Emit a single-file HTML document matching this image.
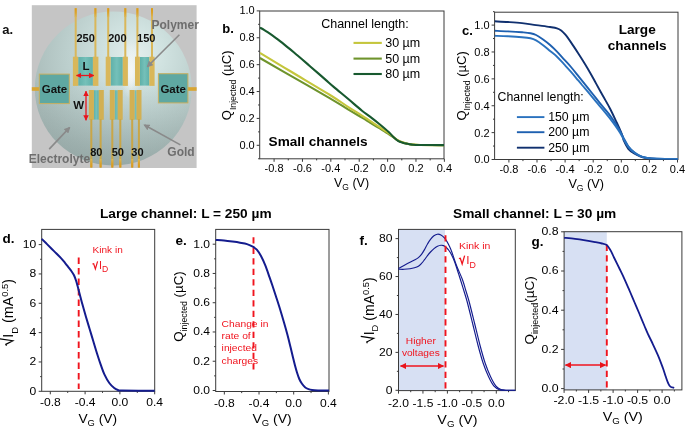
<!DOCTYPE html>
<html><head><meta charset="utf-8"><style>
html,body{margin:0;padding:0;background:#fff;width:685px;height:428px;overflow:hidden}
svg{display:block;will-change:transform;filter:blur(0.3px)}
text{font-family:"Liberation Sans", sans-serif}
</style></head><body>
<svg width="685" height="428" viewBox="0 0 685 428" font-family='"Liberation Sans", sans-serif'>
<rect width="685" height="428" fill="#fff"/>
<defs>
<radialGradient id="circ" cx="0.62" cy="0.30" r="0.85" fx="0.64" fy="0.28">
  <stop offset="0" stop-color="#e3eeed"/>
  <stop offset="0.22" stop-color="#d0e2e0"/>
  <stop offset="0.5" stop-color="#bccfcd"/>
  <stop offset="0.78" stop-color="#aabcba"/>
  <stop offset="1" stop-color="#a0b1af"/>
</radialGradient>
<radialGradient id="glow" cx="0.5" cy="0.5" r="0.5">
  <stop offset="0" stop-color="#f4f6f6" stop-opacity="0.95"/>
  <stop offset="1" stop-color="#f4f6f6" stop-opacity="0"/>
</radialGradient>
<linearGradient id="tipT" x1="0" y1="0" x2="0" y2="1">
  <stop offset="0" stop-color="#db9a18"/>
  <stop offset="0.45" stop-color="#dba12a"/>
  <stop offset="1" stop-color="#d9b75a"/>
</linearGradient>
<linearGradient id="tipB" x1="0" y1="1" x2="0" y2="0">
  <stop offset="0" stop-color="#db9a18"/>
  <stop offset="0.45" stop-color="#dba12a"/>
  <stop offset="1" stop-color="#d9b75a"/>
</linearGradient>
<linearGradient id="shadeB" x1="0" y1="0" x2="0" y2="1">
  <stop offset="0" stop-color="#5a6e6c" stop-opacity="0"/>
  <stop offset="0.45" stop-color="#5a6e6c" stop-opacity="0"/>
  <stop offset="1" stop-color="#5a6e6c" stop-opacity="0.22"/>
</linearGradient>
<linearGradient id="teal" x1="0" y1="0" x2="1" y2="0">
  <stop offset="0" stop-color="#5fb0a9"/>
  <stop offset="0.5" stop-color="#74c0b9"/>
  <stop offset="1" stop-color="#5fb0a9"/>
</linearGradient>
<filter id="blur05" x="-10%" y="-10%" width="120%" height="120%"><feGaussianBlur stdDeviation="0.45"/></filter>
<filter id="blur2" x="-50%" y="-50%" width="200%" height="200%"><feGaussianBlur stdDeviation="4"/></filter>
<marker id="garr" viewBox="0 0 10 10" refX="8" refY="5" markerWidth="4" markerHeight="4" orient="auto-start-reverse"><path d="M0,0 L10,5 L0,10 z" fill="#8a8a8a"/></marker>
<marker id="rarr" viewBox="0 0 10 10" refX="9" refY="5" markerWidth="4.2" markerHeight="4.2" orient="auto-start-reverse"><path d="M0,0 L10,5 L0,10 z" fill="#e8141c"/></marker>
</defs>
<g filter="url(#blur05)">
<rect x="31.8" y="5.2" width="164.8" height="162.8" fill="#c5c5c5"/>
<ellipse cx="113.3" cy="88.6" rx="78.5" ry="77" fill="url(#circ)"/>
<ellipse cx="113.3" cy="88.6" rx="78.5" ry="77" fill="url(#shadeB)"/>
<ellipse cx="131" cy="70" rx="11" ry="30" fill="url(#glow)"/>
<ellipse cx="131" cy="72" rx="5" ry="18" fill="url(#glow)"/>
<rect x="74.7" y="8.2" width="2.0" height="50" fill="#d9b75a"/>
<rect x="74.7" y="8.2" width="2.0" height="9" fill="url(#tipT)"/>
<rect x="94.4" y="8.2" width="2.0" height="50" fill="#d9b75a"/>
<rect x="94.4" y="8.2" width="2.0" height="9" fill="url(#tipT)"/>
<rect x="107.2" y="8.2" width="2.0" height="50" fill="#d9b75a"/>
<rect x="107.2" y="8.2" width="2.0" height="9" fill="url(#tipT)"/>
<rect x="124.3" y="8.2" width="2.0" height="50" fill="#d9b75a"/>
<rect x="124.3" y="8.2" width="2.0" height="9" fill="url(#tipT)"/>
<rect x="136.4" y="8.2" width="2.0" height="50" fill="#d9b75a"/>
<rect x="136.4" y="8.2" width="2.0" height="9" fill="url(#tipT)"/>
<rect x="151.0" y="8.2" width="2.0" height="50" fill="#d9b75a"/>
<rect x="151.0" y="8.2" width="2.0" height="9" fill="url(#tipT)"/>
<rect x="78.2" y="57.0" width="14.7" height="28.6" fill="url(#teal)"/>
<rect x="72.9" y="56.7" width="5.3" height="29.2" fill="#d9b75a"/>
<rect x="92.9" y="56.7" width="5.5" height="29.2" fill="#d9b75a"/>
<rect x="110.6" y="57.0" width="12.2" height="28.6" fill="url(#teal)"/>
<rect x="105.7" y="56.7" width="4.9" height="29.2" fill="#d9b75a"/>
<rect x="122.8" y="56.7" width="5.1" height="29.2" fill="#d9b75a"/>
<rect x="139.9" y="57.0" width="9.5" height="28.6" fill="url(#teal)"/>
<rect x="135.0" y="56.7" width="4.9" height="29.2" fill="#d9b75a"/>
<rect x="149.4" y="56.7" width="5.2" height="29.2" fill="#d9b75a"/>
<rect x="93.9" y="90.2" width="4.9" height="29.4" fill="url(#teal)"/>
<rect x="88.9" y="90.0" width="5.0" height="29.8" fill="#d2b052"/>
<rect x="98.8" y="90.0" width="5.0" height="29.8" fill="#d2b052"/>
<rect x="114.7" y="90.2" width="3.0" height="29.4" fill="url(#teal)"/>
<rect x="109.8" y="90.0" width="4.9" height="29.8" fill="#d2b052"/>
<rect x="117.7" y="90.0" width="5.0" height="29.8" fill="#d2b052"/>
<rect x="134.6" y="90.2" width="1.9" height="29.4" fill="url(#teal)"/>
<rect x="129.6" y="90.0" width="5.0" height="29.8" fill="#d2b052"/>
<rect x="136.5" y="90.0" width="5.0" height="29.8" fill="#d2b052"/>
<rect x="90.3" y="119" width="2.0" height="48.5" fill="#c9a646"/>
<rect x="90.3" y="159" width="2.0" height="8.5" fill="url(#tipB)"/>
<rect x="99.6" y="119" width="2.0" height="48.5" fill="#c9a646"/>
<rect x="99.6" y="159" width="2.0" height="8.5" fill="url(#tipB)"/>
<rect x="111.3" y="119" width="2.0" height="48.5" fill="#c9a646"/>
<rect x="111.3" y="159" width="2.0" height="8.5" fill="url(#tipB)"/>
<rect x="119.3" y="119" width="2.0" height="48.5" fill="#c9a646"/>
<rect x="119.3" y="159" width="2.0" height="8.5" fill="url(#tipB)"/>
<rect x="131.2" y="119" width="2.0" height="48.5" fill="#c9a646"/>
<rect x="131.2" y="159" width="2.0" height="8.5" fill="url(#tipB)"/>
<rect x="137.9" y="119" width="2.0" height="48.5" fill="#c9a646"/>
<rect x="137.9" y="159" width="2.0" height="8.5" fill="url(#tipB)"/>
<rect x="31.8" y="87.2" width="8" height="3.6" fill="#d9a531"/>
<rect x="188" y="87.2" width="8.6" height="3.6" fill="#d9a531"/>
<rect x="39.3" y="74.1" width="30" height="29.5" fill="#5fa8a2" stroke="#c8b060" stroke-width="1"/>
<rect x="158.4" y="73.7" width="29.5" height="29.2" fill="#5fa8a2" stroke="#c8b060" stroke-width="1"/>
</g>
<g font-weight="bold" font-size="11.5" fill="#111">
<text x="54.50" y="93.30" font-size="11.5" text-anchor="middle" font-weight="bold" fill="#111" >Gate</text>
<text x="173.20" y="92.80" font-size="11.5" text-anchor="middle" font-weight="bold" fill="#111" >Gate</text>
<text x="86.00" y="69.50" font-size="11.5" text-anchor="middle" font-weight="bold" fill="#111" >L</text>
<text x="78.80" y="108.80" font-size="11.5" text-anchor="middle" font-weight="bold" fill="#111" >W</text>
<text x="85.60" y="42.40" font-size="11" text-anchor="middle" font-weight="bold" fill="#111" >250</text>
<text x="117.40" y="42.40" font-size="11" text-anchor="middle" font-weight="bold" fill="#111" >200</text>
<text x="146.20" y="42.40" font-size="11" text-anchor="middle" font-weight="bold" fill="#111" >150</text>
<text x="96.30" y="155.60" font-size="11" text-anchor="middle" font-weight="bold" fill="#111" >80</text>
<text x="117.80" y="155.60" font-size="11" text-anchor="middle" font-weight="bold" fill="#111" >50</text>
<text x="137.40" y="155.60" font-size="11" text-anchor="middle" font-weight="bold" fill="#111" >30</text>
</g>
<text x="175.20" y="29.40" font-size="12" text-anchor="middle" font-weight="bold" fill="#6e6e6e" >Polymer</text>
<text x="59.40" y="162.80" font-size="12" text-anchor="middle" font-weight="bold" fill="#6e6e6e" >Electrolyte</text>
<text x="181.00" y="156.00" font-size="12" text-anchor="middle" font-weight="bold" fill="#6e6e6e" >Gold</text>
<path d="M179.4,34.7 L147.5,66.5" stroke="#8a8a8a" stroke-width="1.6" marker-end="url(#garr)"/>
<path d="M49.2,149.1 L69.5,127.6" stroke="#8a8a8a" stroke-width="1.6" marker-end="url(#garr)"/>
<path d="M180.4,144.9 L144.5,125" stroke="#8a8a8a" stroke-width="1.6" marker-end="url(#garr)"/>
<path d="M76.5,75.5 L93.8,75.5" stroke="#e8141c" stroke-width="1.3" marker-start="url(#rarr)" marker-end="url(#rarr)"/>
<path d="M86,91.2 L86,120.2" stroke="#e8141c" stroke-width="1.3" marker-start="url(#rarr)" marker-end="url(#rarr)"/>
<text x="2.30" y="33.80" font-size="13" text-anchor="start" font-weight="bold" fill="#111" >a.</text>
<rect x="259.70" y="11.00" width="184.30" height="147.80" fill="none" stroke="#3a3a3a" stroke-width="1.0"/>
<path d="M274.08,158.80v3.0 M302.46,158.80v3.0 M330.84,158.80v3.0 M359.22,158.80v3.0 M387.60,158.80v3.0 M415.98,158.80v3.0 M444.36,158.80v3.0 M288.27,158.80v1.6 M316.65,158.80v1.6 M345.03,158.80v1.6 M373.41,158.80v1.6 M401.79,158.80v1.6 M430.17,158.80v1.6 M259.70,145.30h-3.0 M259.70,118.42h-3.0 M259.70,91.54h-3.0 M259.70,64.66h-3.0 M259.70,37.78h-3.0 M259.70,10.90h-3.0 M259.70,158.74h-1.6 M259.70,131.86h-1.6 M259.70,104.98h-1.6 M259.70,78.10h-1.6 M259.70,51.22h-1.6 M259.70,24.34h-1.6" stroke="#3a3a3a" stroke-width="1.0" fill="none"/>
<text x="274.08" y="171.80" font-size="11" text-anchor="middle" font-weight="normal" fill="#000" >-0.8</text>
<text x="302.46" y="171.80" font-size="11" text-anchor="middle" font-weight="normal" fill="#000" >-0.6</text>
<text x="330.84" y="171.80" font-size="11" text-anchor="middle" font-weight="normal" fill="#000" >-0.4</text>
<text x="359.22" y="171.80" font-size="11" text-anchor="middle" font-weight="normal" fill="#000" >-0.2</text>
<text x="387.60" y="171.80" font-size="11" text-anchor="middle" font-weight="normal" fill="#000" >0.0</text>
<text x="415.98" y="171.80" font-size="11" text-anchor="middle" font-weight="normal" fill="#000" >0.2</text>
<text x="444.36" y="171.80" font-size="11" text-anchor="middle" font-weight="normal" fill="#000" >0.4</text>
<text x="254.70" y="148.70" font-size="11" text-anchor="end" font-weight="normal" fill="#000" >0.0</text>
<text x="254.70" y="121.82" font-size="11" text-anchor="end" font-weight="normal" fill="#000" >0.2</text>
<text x="254.70" y="94.94" font-size="11" text-anchor="end" font-weight="normal" fill="#000" >0.4</text>
<text x="254.70" y="68.06" font-size="11" text-anchor="end" font-weight="normal" fill="#000" >0.6</text>
<text x="254.70" y="41.18" font-size="11" text-anchor="end" font-weight="normal" fill="#000" >0.8</text>
<text x="254.70" y="14.30" font-size="11" text-anchor="end" font-weight="normal" fill="#000" >1.0</text>
<clipPath id="cb"><rect x="259.7" y="11.0" width="184.3" height="147.8"/></clipPath>
<g clip-path="url(#cb)" fill="none" stroke-width="2.1" stroke-linejoin="round">
<path d="M259.90,58.00 C264.92,60.90 278.32,68.68 290.00,75.40 C301.68,82.12 320.33,92.63 330.00,98.30 C339.67,103.97 342.67,106.18 348.00,109.40 C353.33,112.62 358.33,115.42 362.00,117.60 C365.67,119.78 367.12,120.73 370.00,122.50 C372.88,124.27 376.18,126.28 379.30,128.20 C382.42,130.12 386.20,132.37 388.70,134.00 C391.20,135.63 392.75,136.92 394.30,138.00 C395.85,139.08 396.60,139.77 398.00,140.50 C399.40,141.23 401.13,141.87 402.70,142.40 C404.27,142.93 405.85,143.35 407.40,143.70 C408.95,144.05 409.90,144.28 412.00,144.50 C414.10,144.72 414.67,144.90 420.00,145.00 C425.33,145.10 440.00,145.08 444.00,145.10" stroke="#6f942c"/>
<path d="M259.90,52.80 C264.92,55.83 278.32,63.97 290.00,71.00 C301.68,78.03 320.33,89.03 330.00,95.00 C339.67,100.97 342.67,103.37 348.00,106.80 C353.33,110.23 358.33,113.25 362.00,115.60 C365.67,117.95 367.12,119.03 370.00,120.90 C372.88,122.77 376.18,124.75 379.30,126.80 C382.42,128.85 386.20,131.38 388.70,133.20 C391.20,135.02 392.75,136.52 394.30,137.70 C395.85,138.88 396.60,139.53 398.00,140.30 C399.40,141.07 401.13,141.73 402.70,142.30 C404.27,142.87 405.85,143.33 407.40,143.70 C408.95,144.07 409.90,144.28 412.00,144.50 C414.10,144.72 414.67,144.90 420.00,145.00 C425.33,145.10 440.00,145.08 444.00,145.10" stroke="#c5c63c"/>
<path d="M259.90,27.65 C260.58,28.02 262.65,29.10 264.00,29.89 C265.35,30.68 266.67,31.51 268.00,32.38 C269.33,33.25 270.67,34.18 272.00,35.12 C273.33,36.06 274.67,37.04 276.00,38.04 C277.33,39.04 278.50,39.93 280.00,41.10 C281.50,42.27 283.33,43.73 285.00,45.08 C286.67,46.42 288.17,47.65 290.00,49.17 C291.83,50.69 294.00,52.51 296.00,54.20 C298.00,55.89 299.67,57.31 302.00,59.31 C304.33,61.31 307.33,63.89 310.00,66.20 C312.67,68.51 315.33,70.83 318.00,73.16 C320.67,75.48 323.33,77.82 326.00,80.15 C328.67,82.48 330.33,84.05 334.00,87.16 C337.67,90.27 343.33,94.88 348.00,98.80 C352.67,102.72 358.33,107.73 362.00,110.70 C365.67,113.67 367.12,114.38 370.00,116.60 C372.88,118.82 376.18,121.43 379.30,124.00 C382.42,126.57 386.35,129.83 388.70,132.00 C391.05,134.17 391.85,135.53 393.40,137.00 C394.95,138.47 396.45,139.85 398.00,140.80 C399.55,141.75 401.13,142.20 402.70,142.70 C404.27,143.20 405.85,143.48 407.40,143.80 C408.95,144.12 409.90,144.40 412.00,144.60 C414.10,144.80 414.67,144.92 420.00,145.00 C425.33,145.08 440.00,145.08 444.00,145.10" stroke="#18592f"/>
</g>
<text x="321.20" y="27.50" font-size="12.5" text-anchor="start" font-weight="normal" fill="#000" >Channel length:</text>
<path d="M353.5,42.9 H381.8" stroke="#c5c63c" stroke-width="2.1"/>
<text x="385.20" y="47.30" font-size="12.5" text-anchor="start" font-weight="normal" fill="#000" >30 µm</text>
<path d="M353.5,58.6 H381.8" stroke="#6f942c" stroke-width="2.1"/>
<text x="385.20" y="63.00" font-size="12.5" text-anchor="start" font-weight="normal" fill="#000" >50 µm</text>
<path d="M353.5,74.0 H381.8" stroke="#18592f" stroke-width="2.1"/>
<text x="385.20" y="78.40" font-size="12.5" text-anchor="start" font-weight="normal" fill="#000" >80 µm</text>
<text x="268.60" y="145.70" font-size="13.6" text-anchor="start" font-weight="bold" fill="#000" >Small channels</text>
<text x="334.00" y="187.40" font-size="12.5" text-anchor="start" font-weight="normal" fill="#000" >V<tspan font-size="8.5" dy="3">G</tspan><tspan dy="-3"> (V)</tspan></text>
<text transform="translate(231.3,120.2) rotate(-90)" font-size="13">Q<tspan font-size="8.7" dy="5">Injected</tspan><tspan dy="-5"> (µC)</tspan></text>
<text x="222.20" y="32.70" font-size="13" text-anchor="start" font-weight="bold" fill="#000" >b.</text>
<rect x="494.60" y="12.20" width="183.40" height="147.30" fill="none" stroke="#3a3a3a" stroke-width="1.0"/>
<path d="M508.90,159.50v3.0 M537.00,159.50v3.0 M565.10,159.50v3.0 M593.20,159.50v3.0 M621.30,159.50v3.0 M649.40,159.50v3.0 M677.50,159.50v3.0 M522.95,159.50v1.6 M551.05,159.50v1.6 M579.15,159.50v1.6 M607.25,159.50v1.6 M635.35,159.50v1.6 M663.45,159.50v1.6 M494.60,159.50h-3.0 M494.60,132.62h-3.0 M494.60,105.74h-3.0 M494.60,78.86h-3.0 M494.60,51.98h-3.0 M494.60,25.10h-3.0 M494.60,146.06h-1.6 M494.60,119.18h-1.6 M494.60,92.30h-1.6 M494.60,65.42h-1.6 M494.60,38.54h-1.6 M494.60,11.66h-1.6" stroke="#3a3a3a" stroke-width="1.0" fill="none"/>
<text x="508.90" y="172.60" font-size="11" text-anchor="middle" font-weight="normal" fill="#000" >-0.8</text>
<text x="537.00" y="172.60" font-size="11" text-anchor="middle" font-weight="normal" fill="#000" >-0.6</text>
<text x="565.10" y="172.60" font-size="11" text-anchor="middle" font-weight="normal" fill="#000" >-0.4</text>
<text x="593.20" y="172.60" font-size="11" text-anchor="middle" font-weight="normal" fill="#000" >-0.2</text>
<text x="621.30" y="172.60" font-size="11" text-anchor="middle" font-weight="normal" fill="#000" >0.0</text>
<text x="649.40" y="172.60" font-size="11" text-anchor="middle" font-weight="normal" fill="#000" >0.2</text>
<text x="677.50" y="172.60" font-size="11" text-anchor="middle" font-weight="normal" fill="#000" >0.4</text>
<text x="489.60" y="163.40" font-size="11" text-anchor="end" font-weight="normal" fill="#000" >0.0</text>
<text x="489.60" y="136.52" font-size="11" text-anchor="end" font-weight="normal" fill="#000" >0.2</text>
<text x="489.60" y="109.64" font-size="11" text-anchor="end" font-weight="normal" fill="#000" >0.4</text>
<text x="489.60" y="82.76" font-size="11" text-anchor="end" font-weight="normal" fill="#000" >0.6</text>
<text x="489.60" y="55.88" font-size="11" text-anchor="end" font-weight="normal" fill="#000" >0.8</text>
<text x="489.60" y="29.00" font-size="11" text-anchor="end" font-weight="normal" fill="#000" >1.0</text>
<clipPath id="cc"><rect x="494.6" y="12.2" width="183.39999999999998" height="147.3"/></clipPath>
<g clip-path="url(#cc)" fill="none" stroke-width="1.9" stroke-linejoin="round">
<path d="M494.60,21.30 C496.83,21.42 503.43,21.70 508.00,22.00 C512.57,22.30 517.32,22.58 522.00,23.10 C526.68,23.62 531.43,24.45 536.10,25.10 C540.77,25.75 546.52,26.47 550.00,27.00 C553.48,27.53 555.13,27.72 557.00,28.30 C558.87,28.88 559.80,29.43 561.20,30.50 C562.60,31.57 563.77,32.72 565.40,34.70 C567.03,36.68 568.90,39.35 571.00,42.40 C573.10,45.45 575.65,49.37 578.00,53.00 C580.35,56.63 583.03,60.83 585.10,64.20 C587.17,67.57 588.58,70.00 590.40,73.20 C592.22,76.40 593.90,79.60 596.00,83.40 C598.10,87.20 600.65,91.78 603.00,96.00 C605.35,100.22 607.82,104.28 610.10,108.70 C612.38,113.12 615.02,118.92 616.70,122.50 C618.38,126.08 619.23,127.95 620.20,130.20 C621.17,132.45 621.87,134.20 622.50,136.00 C623.13,137.80 623.03,138.85 624.00,141.00 C624.97,143.15 626.60,146.82 628.30,148.90 C630.00,150.98 632.25,152.25 634.20,153.50 C636.15,154.75 638.05,155.65 640.00,156.40 C641.95,157.15 643.95,157.63 645.90,158.00 C647.85,158.37 648.52,158.45 651.70,158.60 C654.88,158.75 660.62,158.83 665.00,158.90 C669.38,158.97 675.83,158.98 678.00,159.00" stroke="#10306f"/>
<path d="M494.60,30.80 C496.83,30.90 503.43,31.15 508.00,31.40 C512.57,31.65 518.25,32.00 522.00,32.30 C525.75,32.60 528.15,32.75 530.50,33.20 C532.85,33.65 534.00,33.95 536.10,35.00 C538.20,36.05 540.77,37.83 543.10,39.50 C545.43,41.17 547.78,42.98 550.10,45.00 C552.42,47.02 554.68,49.22 557.00,51.60 C559.32,53.98 561.67,56.73 564.00,59.30 C566.33,61.87 568.67,64.28 571.00,67.00 C573.33,69.72 576.17,73.33 578.00,75.60 C579.83,77.87 580.17,78.32 582.00,80.60 C583.83,82.88 586.67,86.37 589.00,89.30 C591.33,92.23 593.67,95.27 596.00,98.20 C598.33,101.13 600.65,104.00 603.00,106.90 C605.35,109.80 607.82,112.55 610.10,115.60 C612.38,118.65 615.02,122.58 616.70,125.20 C618.38,127.82 619.03,129.13 620.20,131.30 C621.37,133.47 622.35,135.72 623.70,138.20 C625.05,140.68 626.55,143.85 628.30,146.20 C630.05,148.55 632.25,150.70 634.20,152.30 C636.15,153.90 638.05,154.90 640.00,155.80 C641.95,156.70 643.95,157.25 645.90,157.70 C647.85,158.15 648.52,158.30 651.70,158.50 C654.88,158.70 660.62,158.82 665.00,158.90 C669.38,158.98 675.83,158.98 678.00,159.00" stroke="#1e60b0"/>
<path d="M494.60,35.80 C496.83,35.88 503.43,36.07 508.00,36.30 C512.57,36.53 518.25,36.87 522.00,37.20 C525.75,37.53 528.15,37.77 530.50,38.30 C532.85,38.83 534.00,39.25 536.10,40.40 C538.20,41.55 540.77,43.43 543.10,45.20 C545.43,46.97 547.78,49.08 550.10,51.00 C552.42,52.92 554.68,54.50 557.00,56.70 C559.32,58.90 561.67,61.67 564.00,64.20 C566.33,66.73 568.67,69.23 571.00,71.90 C573.33,74.57 576.17,78.02 578.00,80.20 C579.83,82.38 580.17,82.83 582.00,85.00 C583.83,87.17 586.67,90.43 589.00,93.20 C591.33,95.97 593.67,98.83 596.00,101.60 C598.33,104.37 600.65,106.97 603.00,109.80 C605.35,112.63 607.82,115.63 610.10,118.60 C612.38,121.57 615.02,125.20 616.70,127.60 C618.38,130.00 619.03,131.05 620.20,133.00 C621.37,134.95 622.35,137.00 623.70,139.30 C625.05,141.60 626.55,144.58 628.30,146.80 C630.05,149.02 632.25,151.07 634.20,152.60 C636.15,154.13 638.05,155.13 640.00,156.00 C641.95,156.87 643.95,157.38 645.90,157.80 C647.85,158.22 648.52,158.32 651.70,158.50 C654.88,158.68 660.62,158.82 665.00,158.90 C669.38,158.98 675.83,158.98 678.00,159.00" stroke="#2a72be"/>
</g>
<text x="497.60" y="101.40" font-size="12.3" text-anchor="start" font-weight="normal" fill="#000" >Channel length:</text>
<path d="M516.9,117.1 H544.4" stroke="#2a72be" stroke-width="1.9"/>
<text x="548.20" y="121.00" font-size="12.3" text-anchor="start" font-weight="normal" fill="#000" >150 µm</text>
<path d="M516.9,132.2 H544.4" stroke="#1e60b0" stroke-width="1.9"/>
<text x="548.20" y="136.10" font-size="12.3" text-anchor="start" font-weight="normal" fill="#000" >200 µm</text>
<path d="M516.9,147.7 H544.4" stroke="#10306f" stroke-width="1.9"/>
<text x="548.20" y="151.60" font-size="12.3" text-anchor="start" font-weight="normal" fill="#000" >250 µm</text>
<text x="637.20" y="33.90" font-size="13.6" text-anchor="middle" font-weight="bold" fill="#000" >Large</text>
<text x="637.20" y="50.20" font-size="13.6" text-anchor="middle" font-weight="bold" fill="#000" >channels</text>
<text x="568.40" y="188.30" font-size="12.7" text-anchor="start" font-weight="normal" fill="#000" >V<tspan font-size="8.6" dy="3">G</tspan><tspan dy="-3"> (V)</tspan></text>
<text transform="translate(465.9,120.6) rotate(-90)" font-size="13">Q<tspan font-size="8.6" dy="4.5">Injected</tspan><tspan dy="-4.5"> (µC)</tspan></text>
<text x="462.00" y="34.60" font-size="13" text-anchor="start" font-weight="bold" fill="#000" >c.</text>
<text x="100.00" y="218.00" font-size="13.7" text-anchor="start" font-weight="bold" fill="#000" >Large channel: L = 250 µm</text>
<text x="453.00" y="217.90" font-size="13.7" text-anchor="start" font-weight="bold" fill="#000" >Small channel: L = 30 µm</text>
<rect x="41.70" y="229.40" width="113.00" height="161.90" fill="none" stroke="#3a3a3a" stroke-width="1.0"/>
<path d="M50.30,391.30v3.0 M85.10,391.30v3.0 M119.90,391.30v3.0 M154.70,391.30v3.0 M67.70,391.30v1.6 M102.50,391.30v1.6 M137.30,391.30v1.6 M41.70,391.30h-3.0 M41.70,361.96h-3.0 M41.70,332.62h-3.0 M41.70,303.28h-3.0 M41.70,273.94h-3.0 M41.70,244.60h-3.0 M41.70,376.63h-1.6 M41.70,347.29h-1.6 M41.70,317.95h-1.6 M41.70,288.61h-1.6 M41.70,259.27h-1.6" stroke="#3a3a3a" stroke-width="1.0" fill="none"/>
<text transform="translate(50.30,406.30) scale(1.1,1)" font-size="11" text-anchor="middle" font-weight="normal" fill="#000" >-0.8</text>
<text transform="translate(85.10,406.30) scale(1.1,1)" font-size="11" text-anchor="middle" font-weight="normal" fill="#000" >-0.4</text>
<text transform="translate(119.90,406.30) scale(1.1,1)" font-size="11" text-anchor="middle" font-weight="normal" fill="#000" >0.0</text>
<text transform="translate(154.70,406.30) scale(1.1,1)" font-size="11" text-anchor="middle" font-weight="normal" fill="#000" >0.4</text>
<text transform="translate(36.10,394.60) scale(1.1,1)" font-size="11" text-anchor="end" font-weight="normal" fill="#000" >0</text>
<text transform="translate(36.10,365.26) scale(1.1,1)" font-size="11" text-anchor="end" font-weight="normal" fill="#000" >2</text>
<text transform="translate(36.10,335.92) scale(1.1,1)" font-size="11" text-anchor="end" font-weight="normal" fill="#000" >4</text>
<text transform="translate(36.10,306.58) scale(1.1,1)" font-size="11" text-anchor="end" font-weight="normal" fill="#000" >6</text>
<text transform="translate(36.10,277.24) scale(1.1,1)" font-size="11" text-anchor="end" font-weight="normal" fill="#000" >8</text>
<text transform="translate(36.10,247.90) scale(1.1,1)" font-size="11" text-anchor="end" font-weight="normal" fill="#000" >10</text>
<path d="M78.70,257.60 V389.00" stroke="#f0141e" stroke-width="1.9" stroke-dasharray="6.3 4.2"/>
<path d="M41.70,238.90 C42.58,239.77 44.95,242.07 47.00,244.10 C49.05,246.13 51.67,248.77 54.00,251.10 C56.33,253.43 59.17,256.15 61.00,258.10 C62.83,260.05 63.75,261.27 65.00,262.80 C66.25,264.33 67.42,265.90 68.50,267.30 C69.58,268.70 70.58,269.87 71.50,271.20 C72.42,272.53 73.25,273.75 74.00,275.30 C74.75,276.85 75.40,278.72 76.00,280.50 C76.60,282.28 77.10,284.17 77.60,286.00 C78.10,287.83 78.52,289.63 79.00,291.50 C79.48,293.37 79.93,295.07 80.50,297.20 C81.07,299.33 81.48,301.00 82.40,304.30 C83.32,307.60 84.78,312.85 86.00,317.00 C87.22,321.15 88.47,325.12 89.70,329.20 C90.93,333.28 92.17,337.42 93.40,341.50 C94.63,345.58 95.88,349.85 97.10,353.70 C98.32,357.55 99.48,361.15 100.70,364.60 C101.92,368.05 102.97,371.33 104.40,374.40 C105.83,377.47 107.67,380.73 109.30,383.00 C110.93,385.27 112.77,386.83 114.20,388.00 C115.63,389.17 116.60,389.57 117.90,390.00 C119.20,390.43 115.87,390.48 122.00,390.60 C128.13,390.72 149.25,390.68 154.70,390.70" fill="none" stroke="#141c8e" stroke-width="2.0" stroke-linejoin="round"/>
<text transform="translate(92.60,253.10) scale(1.06,1)" font-size="9.5" text-anchor="start" font-weight="normal" fill="#f0141e" >Kink in</text>
<path d="M92.40,264.05 L93.67,263.73 L95.37,269.00 L97.59,261.37" fill="none" stroke="#f0141e" stroke-width="1.17" stroke-linejoin="miter" stroke-linecap="butt"/>
<text x="98.97" y="269.00" font-size="10.6" fill="#f0141e">I<tspan font-size="8.6" dy="2.8">D</tspan></text>
<text transform="translate(97.70,422.80) scale(1.1,1)" font-size="12.5" text-anchor="middle" font-weight="normal" fill="#000" >V<tspan font-size="8.5" dy="3.0">G</tspan><tspan dy="-3.0"> (V)</tspan></text>
<g transform="translate(13.20,312.30) rotate(-90)">
<path d="M-33.50,-6.72 L-32.07,-7.44 L-28.50,-0.29 L-26.50,-13.44" fill="none" stroke="#000" stroke-width="1.14" stroke-linejoin="miter"/>
<text x="-25.35" y="0" font-size="14.3" fill="#000">I<tspan font-size="9.4" dy="4.3">D</tspan><tspan dy="-4.3"> (mA</tspan><tspan font-size="9.4" dy="-5.4">0.5</tspan><tspan dy="5.4">)</tspan></text>
</g>
<text x="2.60" y="242.90" font-size="13.5" text-anchor="start" font-weight="bold" fill="#000" >d.</text>
<rect x="215.70" y="229.40" width="113.30" height="162.10" fill="none" stroke="#3a3a3a" stroke-width="1.0"/>
<path d="M224.34,391.50v3.0 M259.02,391.50v3.0 M293.70,391.50v3.0 M328.38,391.50v3.0 M241.68,391.50v1.6 M276.36,391.50v1.6 M311.04,391.50v1.6 M215.70,390.50h-3.0 M215.70,361.24h-3.0 M215.70,331.98h-3.0 M215.70,302.72h-3.0 M215.70,273.46h-3.0 M215.70,244.20h-3.0 M215.70,375.87h-1.6 M215.70,346.61h-1.6 M215.70,317.35h-1.6 M215.70,288.09h-1.6 M215.70,258.83h-1.6" stroke="#3a3a3a" stroke-width="1.0" fill="none"/>
<text transform="translate(224.34,406.50) scale(1.1,1)" font-size="11" text-anchor="middle" font-weight="normal" fill="#000" >-0.8</text>
<text transform="translate(259.02,406.50) scale(1.1,1)" font-size="11" text-anchor="middle" font-weight="normal" fill="#000" >-0.4</text>
<text transform="translate(293.70,406.50) scale(1.1,1)" font-size="11" text-anchor="middle" font-weight="normal" fill="#000" >0.0</text>
<text transform="translate(328.38,406.50) scale(1.1,1)" font-size="11" text-anchor="middle" font-weight="normal" fill="#000" >0.4</text>
<text transform="translate(210.10,393.80) scale(1.1,1)" font-size="11" text-anchor="end" font-weight="normal" fill="#000" >0.0</text>
<text transform="translate(210.10,364.54) scale(1.1,1)" font-size="11" text-anchor="end" font-weight="normal" fill="#000" >0.2</text>
<text transform="translate(210.10,335.28) scale(1.1,1)" font-size="11" text-anchor="end" font-weight="normal" fill="#000" >0.4</text>
<text transform="translate(210.10,306.02) scale(1.1,1)" font-size="11" text-anchor="end" font-weight="normal" fill="#000" >0.6</text>
<text transform="translate(210.10,276.76) scale(1.1,1)" font-size="11" text-anchor="end" font-weight="normal" fill="#000" >0.8</text>
<text transform="translate(210.10,247.50) scale(1.1,1)" font-size="11" text-anchor="end" font-weight="normal" fill="#000" >1.0</text>
<path d="M253.50,237.30 V372.00" stroke="#f0141e" stroke-width="1.9" stroke-dasharray="6.3 4.2"/>
<path d="M215.70,240.00 C217.08,240.10 221.22,240.33 224.00,240.60 C226.78,240.87 229.73,241.25 232.40,241.60 C235.07,241.95 237.57,242.28 240.00,242.70 C242.43,243.12 244.78,243.40 247.00,244.10 C249.22,244.80 251.67,245.97 253.30,246.90 C254.93,247.83 255.52,248.18 256.80,249.70 C258.08,251.22 259.60,253.42 261.00,256.00 C262.40,258.58 263.78,261.68 265.20,265.20 C266.62,268.72 268.30,273.72 269.50,277.10 C270.70,280.48 271.32,282.27 272.40,285.50 C273.48,288.73 274.73,292.58 276.00,296.50 C277.27,300.42 278.67,304.67 280.00,309.00 C281.33,313.33 282.75,318.17 284.00,322.50 C285.25,326.83 286.42,330.92 287.50,335.00 C288.58,339.08 289.58,343.25 290.50,347.00 C291.42,350.75 292.25,354.42 293.00,357.50 C293.75,360.58 294.33,363.00 295.00,365.50 C295.67,368.00 296.28,370.25 297.00,372.50 C297.72,374.75 298.47,377.12 299.30,379.00 C300.13,380.88 301.05,382.43 302.00,383.80 C302.95,385.17 303.92,386.32 305.00,387.20 C306.08,388.08 307.33,388.63 308.50,389.10 C309.67,389.57 310.42,389.78 312.00,390.00 C313.58,390.22 315.17,390.32 318.00,390.40 C320.83,390.48 327.17,390.48 329.00,390.50" fill="none" stroke="#141c8e" stroke-width="2.0" stroke-linejoin="round"/>
<text transform="translate(221.60,326.70) scale(1.07,1)" font-size="9.6" text-anchor="start" font-weight="normal" fill="#f0141e" >Change in</text>
<text transform="translate(221.60,339.00) scale(1.07,1)" font-size="9.6" text-anchor="start" font-weight="normal" fill="#f0141e" >rate of</text>
<text transform="translate(221.60,351.30) scale(1.07,1)" font-size="9.6" text-anchor="start" font-weight="normal" fill="#f0141e" >injected</text>
<text transform="translate(221.60,363.60) scale(1.07,1)" font-size="9.6" text-anchor="start" font-weight="normal" fill="#f0141e" >charges</text>
<text transform="translate(272.10,423.00) scale(1.1,1)" font-size="12.7" text-anchor="middle" font-weight="normal" fill="#000" >V<tspan font-size="8.6" dy="3.0">G</tspan><tspan dy="-3.0"> (V)</tspan></text>
<text transform="translate(183.30,306.50) rotate(-90)" font-size="13.3" text-anchor="middle">Q<tspan font-size="8.8" dy="4.0">injected</tspan><tspan dy="-4.0"> (µC)</tspan></text>
<text x="175.60" y="245.20" font-size="13.5" text-anchor="start" font-weight="bold" fill="#000" >e.</text>
<rect x="398.5" y="229.4" width="46.50" height="161.20" fill="#d7e0f3"/>
<rect x="398.50" y="229.40" width="116.80" height="161.20" fill="none" stroke="#3a3a3a" stroke-width="1.0"/>
<path d="M398.50,390.60v3.0 M422.95,390.60v3.0 M447.40,390.60v3.0 M471.85,390.60v3.0 M496.30,390.60v3.0 M410.73,390.60v1.6 M435.18,390.60v1.6 M459.62,390.60v1.6 M484.07,390.60v1.6 M508.53,390.60v1.6 M398.50,390.30h-3.0 M398.50,352.38h-3.0 M398.50,314.46h-3.0 M398.50,276.54h-3.0 M398.50,238.62h-3.0 M398.50,371.34h-1.6 M398.50,333.42h-1.6 M398.50,295.50h-1.6 M398.50,257.58h-1.6" stroke="#3a3a3a" stroke-width="1.0" fill="none"/>
<text transform="translate(398.50,406.50) scale(1.1,1)" font-size="11" text-anchor="middle" font-weight="normal" fill="#000" >-2.0</text>
<text transform="translate(422.95,406.50) scale(1.1,1)" font-size="11" text-anchor="middle" font-weight="normal" fill="#000" >-1.5</text>
<text transform="translate(447.40,406.50) scale(1.1,1)" font-size="11" text-anchor="middle" font-weight="normal" fill="#000" >-1.0</text>
<text transform="translate(471.85,406.50) scale(1.1,1)" font-size="11" text-anchor="middle" font-weight="normal" fill="#000" >-0.5</text>
<text transform="translate(496.30,406.50) scale(1.1,1)" font-size="11" text-anchor="middle" font-weight="normal" fill="#000" >0.0</text>
<text transform="translate(392.50,393.60) scale(1.1,1)" font-size="11" text-anchor="end" font-weight="normal" fill="#000" >0</text>
<text transform="translate(392.50,355.68) scale(1.1,1)" font-size="11" text-anchor="end" font-weight="normal" fill="#000" >20</text>
<text transform="translate(392.50,317.76) scale(1.1,1)" font-size="11" text-anchor="end" font-weight="normal" fill="#000" >40</text>
<text transform="translate(392.50,279.84) scale(1.1,1)" font-size="11" text-anchor="end" font-weight="normal" fill="#000" >60</text>
<text transform="translate(392.50,241.92) scale(1.1,1)" font-size="11" text-anchor="end" font-weight="normal" fill="#000" >80</text>
<path d="M398.50,268.50 C399.42,267.98 402.08,266.45 404.00,265.40 C405.92,264.35 408.17,263.13 410.00,262.20 C411.83,261.27 413.60,260.57 415.00,259.80 C416.40,259.03 417.32,258.52 418.40,257.60 C419.48,256.68 420.48,255.63 421.50,254.30 C422.52,252.97 423.50,251.32 424.50,249.60 C425.50,247.88 426.50,245.72 427.50,244.00 C428.50,242.28 429.43,240.67 430.50,239.30 C431.57,237.93 432.75,236.65 433.90,235.80 C435.05,234.95 436.23,234.33 437.40,234.20 C438.57,234.07 439.73,234.38 440.90,235.00 C442.07,235.62 443.38,236.80 444.40,237.90 C445.42,239.00 446.18,240.25 447.00,241.60 C447.82,242.95 448.47,244.18 449.30,246.00 C450.13,247.82 450.80,249.25 452.00,252.50 C453.20,255.75 454.77,261.00 456.50,265.50 C458.23,270.00 460.85,275.33 462.40,279.50 C463.95,283.67 464.68,286.83 465.80,290.50 C466.92,294.17 467.65,296.08 469.10,301.50 C470.55,306.92 472.72,315.83 474.50,323.00 C476.28,330.17 478.02,337.78 479.80,344.50 C481.58,351.22 483.40,357.92 485.20,363.30 C487.00,368.68 488.80,372.98 490.60,376.80 C492.40,380.62 494.27,384.07 496.00,386.20 C497.73,388.33 499.33,388.93 501.00,389.60 C502.67,390.27 503.62,390.08 506.00,390.20 C508.38,390.32 513.75,390.28 515.30,390.30" fill="none" stroke="#141c8e" stroke-width="1.15"/>
<path d="M398.50,269.20 C399.42,269.22 402.08,269.37 404.00,269.30 C405.92,269.23 408.25,269.05 410.00,268.80 C411.75,268.55 413.10,268.23 414.50,267.80 C415.90,267.37 417.23,266.93 418.40,266.20 C419.57,265.47 420.48,264.48 421.50,263.40 C422.52,262.32 423.50,261.00 424.50,259.70 C425.50,258.40 426.50,256.88 427.50,255.60 C428.50,254.32 429.42,253.17 430.50,252.00 C431.58,250.83 432.83,249.55 434.00,248.60 C435.17,247.65 436.35,246.85 437.50,246.30 C438.65,245.75 439.90,245.42 440.90,245.30 C441.90,245.18 442.65,245.28 443.50,245.60 C444.35,245.92 445.17,246.48 446.00,247.20 C446.83,247.92 447.67,248.82 448.50,249.90 C449.33,250.98 450.00,251.77 451.00,253.70 C452.00,255.63 453.25,258.18 454.50,261.50 C455.75,264.82 457.52,270.60 458.50,273.60 C459.48,276.60 459.52,276.68 460.40,279.50 C461.28,282.32 462.68,286.83 463.80,290.50 C464.92,294.17 465.65,296.08 467.10,301.50 C468.55,306.92 470.72,315.83 472.50,323.00 C474.28,330.17 476.02,337.78 477.80,344.50 C479.58,351.22 481.40,357.92 483.20,363.30 C485.00,368.68 486.80,372.98 488.60,376.80 C490.40,380.62 492.20,384.05 494.00,386.20 C495.80,388.35 497.57,389.03 499.40,389.70 C501.23,390.37 502.35,390.10 505.00,390.20 C507.65,390.30 513.58,390.28 515.30,390.30" fill="none" stroke="#141c8e" stroke-width="1.15"/>
<path d="M445.50,235.30 V389.50" stroke="#f0141e" stroke-width="1.9" stroke-dasharray="6.3 4.2"/>
<text transform="translate(459.00,248.50) scale(1.07,1)" font-size="9.8" text-anchor="start" font-weight="normal" fill="#f0141e" >Kink in</text>
<path d="M458.90,258.54 L460.30,258.19 L462.18,264.00 L464.63,255.58" fill="none" stroke="#f0141e" stroke-width="1.29" stroke-linejoin="miter" stroke-linecap="butt"/>
<text x="466.15" y="264.00" font-size="11.7" fill="#f0141e">I<tspan font-size="8.8" dy="3.6">D</tspan></text>
<text transform="translate(420.80,343.70) scale(1.06,1)" font-size="9.6" text-anchor="middle" font-weight="normal" fill="#f0141e" >Higher</text>
<text transform="translate(420.80,355.80) scale(1.06,1)" font-size="9.6" text-anchor="middle" font-weight="normal" fill="#f0141e" >voltages</text>
<path d="M400.5,366 H443.5" stroke="#f0141e" stroke-width="1.5" marker-start="url(#rarr)" marker-end="url(#rarr)"/>
<text transform="translate(457.40,423.50) scale(1.1,1)" font-size="13.0" text-anchor="middle" font-weight="normal" fill="#000" >V<tspan font-size="8.8" dy="3.1">G</tspan><tspan dy="-3.1"> (V)</tspan></text>
<g transform="translate(374.00,310.30) rotate(-90)">
<path d="M-33.03,-6.63 L-31.62,-7.33 L-28.10,-0.28 L-26.12,-13.25" fill="none" stroke="#000" stroke-width="1.13" stroke-linejoin="miter"/>
<text x="-25.00" y="0" font-size="14.1" fill="#000">I<tspan font-size="9.3" dy="4.2">D</tspan><tspan dy="-4.2"> (mA</tspan><tspan font-size="9.3" dy="-5.4">0.5</tspan><tspan dy="5.4">)</tspan></text>
</g>
<text x="359.60" y="244.50" font-size="13.5" text-anchor="start" font-weight="bold" fill="#000" >f.</text>
<rect x="564.1" y="231.7" width="42.70" height="158.20" fill="#d7e0f3"/>
<rect x="564.10" y="231.70" width="117.80" height="158.20" fill="none" stroke="#3a3a3a" stroke-width="1.0"/>
<path d="M564.10,389.90v3.0 M588.60,389.90v3.0 M613.10,389.90v3.0 M637.60,389.90v3.0 M662.10,389.90v3.0 M576.35,389.90v1.6 M600.85,389.90v1.6 M625.35,389.90v1.6 M649.85,389.90v1.6 M674.35,389.90v1.6 M564.10,388.60h-3.0 M564.10,349.40h-3.0 M564.10,310.20h-3.0 M564.10,271.00h-3.0 M564.10,231.80h-3.0 M564.10,369.00h-1.6 M564.10,329.80h-1.6 M564.10,290.60h-1.6 M564.10,251.40h-1.6" stroke="#3a3a3a" stroke-width="1.0" fill="none"/>
<text transform="translate(564.10,404.10) scale(1.12,1)" font-size="11" text-anchor="middle" font-weight="normal" fill="#000" >-2.0</text>
<text transform="translate(588.60,404.10) scale(1.12,1)" font-size="11" text-anchor="middle" font-weight="normal" fill="#000" >-1.5</text>
<text transform="translate(613.10,404.10) scale(1.12,1)" font-size="11" text-anchor="middle" font-weight="normal" fill="#000" >-1.0</text>
<text transform="translate(637.60,404.10) scale(1.12,1)" font-size="11" text-anchor="middle" font-weight="normal" fill="#000" >-0.5</text>
<text transform="translate(662.10,404.10) scale(1.12,1)" font-size="11" text-anchor="middle" font-weight="normal" fill="#000" >0.0</text>
<text transform="translate(558.50,391.90) scale(1.12,1)" font-size="11" text-anchor="end" font-weight="normal" fill="#000" >0.0</text>
<text transform="translate(558.50,352.70) scale(1.12,1)" font-size="11" text-anchor="end" font-weight="normal" fill="#000" >0.2</text>
<text transform="translate(558.50,313.50) scale(1.12,1)" font-size="11" text-anchor="end" font-weight="normal" fill="#000" >0.4</text>
<text transform="translate(558.50,274.30) scale(1.12,1)" font-size="11" text-anchor="end" font-weight="normal" fill="#000" >0.6</text>
<text transform="translate(558.50,235.10) scale(1.12,1)" font-size="11" text-anchor="end" font-weight="normal" fill="#000" >0.8</text>
<path d="M606.80,244.80 V389.00" stroke="#f0141e" stroke-width="1.9" stroke-dasharray="6.3 4.2"/>
<path d="M564.10,237.80 C565.92,237.98 571.47,238.47 575.00,238.90 C578.53,239.33 581.97,239.87 585.30,240.40 C588.63,240.93 592.22,241.58 595.00,242.10 C597.78,242.62 600.12,243.05 602.00,243.50 C603.88,243.95 605.23,244.22 606.30,244.80 C607.37,245.38 607.62,245.93 608.40,247.00 C609.18,248.07 610.07,249.45 611.00,251.20 C611.93,252.95 612.52,254.45 614.00,257.50 C615.48,260.55 618.10,265.78 619.90,269.50 C621.70,273.22 623.17,276.22 624.80,279.80 C626.43,283.38 628.07,287.22 629.70,291.00 C631.33,294.78 632.97,298.67 634.60,302.50 C636.23,306.33 637.85,310.08 639.50,314.00 C641.15,317.92 643.08,322.63 644.50,326.00 C645.92,329.37 646.73,331.45 648.00,334.20 C649.27,336.95 650.40,338.90 652.10,342.50 C653.80,346.10 656.42,351.58 658.20,355.80 C659.98,360.02 661.53,364.30 662.80,367.80 C664.07,371.30 664.92,374.27 665.80,376.80 C666.68,379.33 667.33,381.37 668.10,383.00 C668.87,384.63 669.38,385.80 670.40,386.60 C671.42,387.40 673.57,387.60 674.20,387.80" fill="none" stroke="#141c8e" stroke-width="1.8" stroke-linejoin="round"/>
<path d="M565.5,365.1 H605.5" stroke="#f0141e" stroke-width="1.5" marker-start="url(#rarr)" marker-end="url(#rarr)"/>
<text transform="translate(622.80,421.00) scale(1.1,1)" font-size="13.0" text-anchor="middle" font-weight="normal" fill="#000" >V<tspan font-size="8.8" dy="3.1">G</tspan><tspan dy="-3.1"> (V)</tspan></text>
<text transform="translate(534.00,310.30) rotate(-90)" font-size="13.6" text-anchor="middle">Q<tspan font-size="9.0" dy="4.1">injected</tspan><tspan dy="-4.1">(µC)</tspan></text>
<text x="531.60" y="245.60" font-size="13.5" text-anchor="start" font-weight="bold" fill="#000" >g.</text>
</svg>
</body></html>
